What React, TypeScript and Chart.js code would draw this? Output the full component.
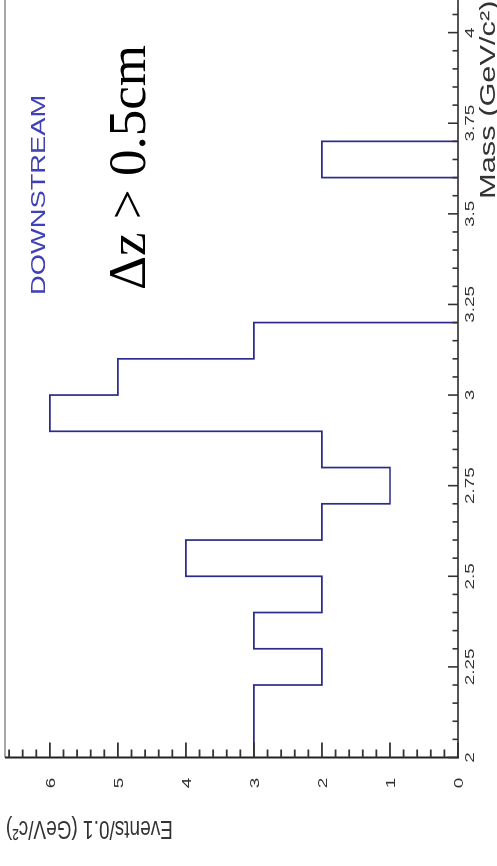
import { useEffect, useRef } from "react";
import { Chart, registerables } from "chart.js";

Chart.register(...registerables);

// Invariant-mass histogram, 0.1 GeV/c² bins (lower bin edges)
const massBinLow = [
  2.0, 2.1, 2.2, 2.3, 2.4, 2.5, 2.6, 2.7, 2.8, 2.9, 3.0,
  3.1, 3.2, 3.3, 3.4, 3.5, 3.6, 3.7, 3.8, 3.9, 4.0,
];
const eventCounts = [
  3, 3, 2, 3, 2, 4, 2, 1, 2, 6, 5,
  3, 0, 0, 0, 0, 2, 0, 0, 0, 0,
];
const binWidth = 0.1;

const massTickLabels = ["2", "2.25", "2.5", "2.75", "3", "3.25", "3.5", "3.75", "4"];
const eventTickLabels = ["0", "1", "2", "3", "4", "5", "6"];

const massRange = [2, 4.09];
const eventRange = [0, 6.66];

const W = 866;
const H = 497;
const STRETCH = 1.4; // horizontal stretch of the ROOT lettering
const SANS = '"Liberation Sans", Arial, sans-serif';
const SERIF = '"Liberation Serif", "Times New Roman", serif';

type TextOpts = {
  font: string;
  color: string;
  align?: CanvasTextAlign;
  baseline?: CanvasTextBaseline;
  sx?: number;
  angle?: number;
};

function drawText(ctx: CanvasRenderingContext2D, text: string, x: number, y: number, o: TextOpts) {
  ctx.save();
  ctx.translate(x, y);
  ctx.scale(o.sx ?? 1, 1);
  if (o.angle) ctx.rotate(o.angle);
  ctx.font = o.font;
  ctx.fillStyle = o.color;
  ctx.textAlign = o.align ?? "left";
  ctx.textBaseline = o.baseline ?? "alphabetic";
  ctx.fillText(text, 0, 0);
  ctx.restore();
}

// majors plus evenly spaced minors between (and beyond) them
function withMinors(majors: number[], sub: number, limit: number) {
  const step = (majors[1] - majors[0]) / sub;
  const out: { v: number; major: boolean }[] = [];
  for (let i = 0; i < majors.length; i++) {
    out.push({ v: majors[i], major: true });
    for (let k = 1; k < sub; k++) {
      const v = majors[i] + k * step;
      if (v <= limit + 1e-9) out.push({ v, major: false });
    }
  }
  return out;
}

const frameAndLabels = {
  id: "frameAndLabels",
  afterDraw(chart: any) {
    const { ctx, chartArea } = chart;
    const { left, right, top, bottom } = chartArea;
    const xs = chart.scales.x;
    const ys = chart.scales.y;

    ctx.save();
    ctx.lineCap = "butt";

    // outer frame edge opposite the mass axis
    ctx.strokeStyle = "#8a8a8a";
    ctx.lineWidth = 1.6;
    ctx.beginPath();
    ctx.moveTo(left, top);
    ctx.lineTo(right + 2, top);
    ctx.stroke();

    // mass axis
    ctx.strokeStyle = "#555";
    ctx.lineWidth = 1.8;
    ctx.beginPath();
    ctx.moveTo(left, bottom);
    ctx.lineTo(right + 2, bottom);
    ctx.stroke();

    // events axis
    ctx.strokeStyle = "#222";
    ctx.lineWidth = 2;
    ctx.beginPath();
    ctx.moveTo(left, top);
    ctx.lineTo(left, bottom + 1);
    ctx.stroke();

    // mass ticks (inward)
    const massMajors = massTickLabels.map(Number);
    ctx.strokeStyle = "#333";
    ctx.lineWidth = 1.6;
    for (const t of withMinors(massMajors, 5, massRange[1])) {
      const px = xs.getPixelForValue(t.v);
      const len = t.major ? 10 : 5.5;
      ctx.beginPath();
      ctx.moveTo(px, bottom);
      ctx.lineTo(px, bottom - len);
      ctx.stroke();
    }

    // events ticks (inward)
    const evMajors = eventTickLabels.map(Number);
    ctx.lineWidth = 1.8;
    for (const t of withMinors(evMajors, 5, eventRange[1])) {
      const py = ys.getPixelForValue(t.v);
      const len = t.major ? 15 : 8;
      ctx.beginPath();
      ctx.moveTo(left, py);
      ctx.lineTo(left + len, py);
      ctx.stroke();
    }

    // tick labels
    const tickFont = `13.5px ${SANS}`;
    massTickLabels.forEach((lab) => {
      const px = xs.getPixelForValue(Number(lab));
      drawText(ctx, lab, px, 474, { font: tickFont, color: "#333", align: "center", sx: STRETCH });
    });
    eventTickLabels.forEach((lab) => {
      const py = ys.getPixelForValue(Number(lab));
      drawText(ctx, lab, 83, py + 4.8, { font: tickFont, color: "#333", align: "center", sx: STRETCH });
    });

    // axis titles
    drawText(ctx, "Mass (GeV/c²)", 667, 495, { font: `22px ${SANS}`, color: "#333", align: "left", sx: STRETCH });
    drawText(ctx, "Events/0.1 (GeV/c²)", 45, 6, {
      font: `19px ${SANS}`,
      color: "#333",
      align: "right",
      sx: STRETCH,
      angle: -Math.PI / 2,
    });

    // annotations
    drawText(ctx, "DOWNSTREAM", 571, 45, { font: `19.5px ${SANS}`, color: "#4040b8", align: "left", sx: STRETCH });
    drawText(ctx, "Δz > 0.5cm", 576, 145, { font: `53px ${SERIF}`, color: "#000", align: "left" });

    ctx.restore();
  },
};

export default function App() {
  const canvasRef = useRef<HTMLCanvasElement | null>(null);

  useEffect(() => {
    if (!canvasRef.current) return;
    const points = massBinLow.map((m, i) => ({ x: m, y: eventCounts[i] }));
    const last = massBinLow[massBinLow.length - 1] + binWidth;
    points.push({ x: last, y: 0 });

    const chart = new Chart(canvasRef.current, {
      type: "line",
      data: {
        datasets: [
          {
            data: points,
            stepped: true,
            borderColor: "#2b2b8c",
            borderWidth: 1.7,
            pointRadius: 0,
            fill: false,
          },
        ],
      },
      options: {
        responsive: false,
        animation: false,
        devicePixelRatio: 1,
        layout: { padding: { top: 5, left: 0, right: 0, bottom: 0 } },
        plugins: { legend: { display: false }, tooltip: { enabled: false } },
        scales: {
          x: {
            type: "linear",
            min: massRange[0],
            max: massRange[1],
            grid: { display: false },
            border: { display: false },
            ticks: { display: false },
            afterFit(s: any) {
              s.height = H - 458;
            },
          },
          y: {
            type: "linear",
            min: eventRange[0],
            max: eventRange[1],
            grid: { display: false },
            border: { display: false },
            ticks: { display: false },
            afterFit(s: any) {
              s.width = 108.5;
            },
          },
        },
      },
      plugins: [frameAndLabels],
    });
    return () => chart.destroy();
  }, []);

  return (
    <div
      style={{
        position: "fixed",
        left: 0,
        top: 0,
        width: W,
        height: H,
        background: "#fff",
        transformOrigin: "0 0",
        transform: `translateY(${W}px) rotate(-90deg)`,
      }}
    >
      <canvas ref={canvasRef} width={W} height={H} style={{ display: "block" }} />
    </div>
  );
}
